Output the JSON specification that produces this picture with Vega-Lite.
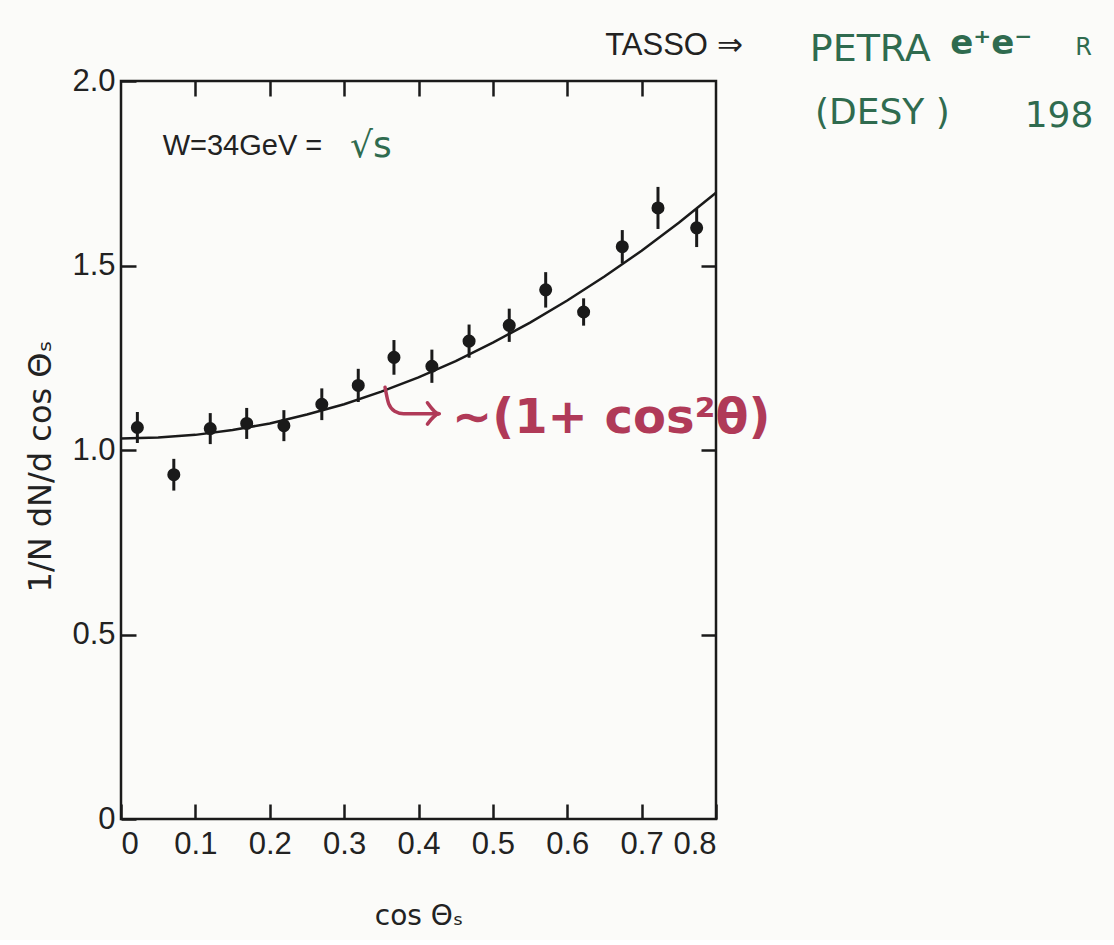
{
  "$schema": "https://vega.github.io/schema/vega-lite/v6.json",
  "width": 595,
  "height": 738,
  "padding": {"left": 24, "top": 27, "right": 30, "bottom": 10},
  "background": "#fbfbf9",
  "config": {
    "view": {"stroke": "#1a1a1a", "strokeWidth": 2.5},
    "font": "Liberation Sans",
    "axis": {
      "domain": false,
      "grid": false,
      "tickColor": "#1a1a1a",
      "tickWidth": 2.5,
      "tickSize": -15,
      "labelFont": "Liberation Sans",
      "labelFontSize": 31,
      "labelColor": "#222222",
      "titleFont": "DejaVu Sans",
      "titleFontSize": 28,
      "titleFontWeight": "normal",
      "titleColor": "#222222"
    }
  },
  "datasets": {
    "points": [
      {"c": 0.022, "v": 1.061, "lo": 1.019, "hi": 1.103},
      {"c": 0.071, "v": 0.933, "lo": 0.890, "hi": 0.976},
      {"c": 0.120, "v": 1.058, "lo": 1.016, "hi": 1.100},
      {"c": 0.169, "v": 1.072, "lo": 1.030, "hi": 1.114},
      {"c": 0.219, "v": 1.066, "lo": 1.024, "hi": 1.108},
      {"c": 0.270, "v": 1.124, "lo": 1.081, "hi": 1.167},
      {"c": 0.319, "v": 1.175, "lo": 1.130, "hi": 1.220},
      {"c": 0.367, "v": 1.251, "lo": 1.204, "hi": 1.298},
      {"c": 0.418, "v": 1.227, "lo": 1.182, "hi": 1.272},
      {"c": 0.468, "v": 1.295, "lo": 1.250, "hi": 1.340},
      {"c": 0.522, "v": 1.338, "lo": 1.293, "hi": 1.383},
      {"c": 0.571, "v": 1.434, "lo": 1.386, "hi": 1.482},
      {"c": 0.622, "v": 1.374, "lo": 1.337, "hi": 1.411},
      {"c": 0.674, "v": 1.551, "lo": 1.506, "hi": 1.596},
      {"c": 0.722, "v": 1.656, "lo": 1.599, "hi": 1.713},
      {"c": 0.774, "v": 1.602, "lo": 1.550, "hi": 1.654}
    ],
    "fit": [
      {"c": 0.00, "v": 1.031},
      {"c": 0.05, "v": 1.034},
      {"c": 0.10, "v": 1.041},
      {"c": 0.15, "v": 1.054},
      {"c": 0.20, "v": 1.072},
      {"c": 0.25, "v": 1.096},
      {"c": 0.30, "v": 1.124},
      {"c": 0.35, "v": 1.158},
      {"c": 0.40, "v": 1.197},
      {"c": 0.45, "v": 1.241},
      {"c": 0.50, "v": 1.291},
      {"c": 0.55, "v": 1.345},
      {"c": 0.60, "v": 1.405},
      {"c": 0.65, "v": 1.470},
      {"c": 0.70, "v": 1.540},
      {"c": 0.75, "v": 1.616},
      {"c": 0.80, "v": 1.697}
    ],
    "arrow": [
      {"part": "shaft", "k": 1, "c": 0.355, "v": 1.170},
      {"part": "shaft", "k": 2, "c": 0.360, "v": 1.125},
      {"part": "shaft", "k": 3, "c": 0.368, "v": 1.105},
      {"part": "shaft", "k": 4, "c": 0.380, "v": 1.098},
      {"part": "shaft", "k": 5, "c": 0.427, "v": 1.098},
      {"part": "head", "k": 1, "c": 0.412, "v": 1.128},
      {"part": "head", "k": 2, "c": 0.428, "v": 1.098},
      {"part": "head", "k": 3, "c": 0.412, "v": 1.070}
    ]
  },
  "layer": [
    {
      "data": {"name": "fit"},
      "mark": {"type": "line", "color": "#1a1a1a", "strokeWidth": 2.5},
      "encoding": {
        "x": {
          "field": "c", "type": "quantitative",
          "scale": {"domain": [0, 0.8], "nice": false, "zero": false},
          "axis": {
            "orient": "bottom",
            "values": [0, 0.1, 0.2, 0.3, 0.4, 0.5, 0.6, 0.7, 0.8],
            "labelExpr": "datum.value == 0 ? '0' : format(datum.value, '.1f')",
            "labelPadding": 25,
            "title": "cos Θₛ",
            "titlePadding": 43
          }
        },
        "y": {
          "field": "v", "type": "quantitative",
          "scale": {"domain": [0, 2], "nice": false},
          "axis": {
            "orient": "left",
            "values": [0, 0.5, 1, 1.5, 2],
            "labelExpr": "datum.value == 0 ? '0' : format(datum.value, '.1f')",
            "labelPadding": 21,
            "title": "1/N  dN/d cos  Θₛ",
            "titleFontSize": 32,
            "titlePadding": 14,
            "titleY": 385
          }
        }
      }
    },
    {
      "data": {"name": "points"},
      "mark": {"type": "rule", "color": "#1a1a1a", "strokeWidth": 3},
      "encoding": {
        "x": {"field": "c", "type": "quantitative", "axis": {"orient": "top", "values": [0.1, 0.2, 0.3, 0.4, 0.5, 0.6, 0.7], "labels": false, "title": null}},
        "y": {"field": "lo", "type": "quantitative", "axis": {"orient": "right", "values": [0.5, 1, 1.5], "labels": false, "title": null}},
        "y2": {"field": "hi"}
      }
    },
    {
      "data": {"name": "points"},
      "mark": {"type": "point", "filled": true, "color": "#1a1a1a", "size": 170, "opacity": 1},
      "encoding": {
        "x": {"field": "c", "type": "quantitative", "axis": null},
        "y": {"field": "v", "type": "quantitative", "axis": null}
      }
    },
    {
      "data": {"name": "arrow"},
      "mark": {"type": "line", "color": "#b03a58", "strokeWidth": 3.5, "strokeCap": "round", "strokeJoin": "round", "interpolate": "monotone"},
      "encoding": {
        "x": {"field": "c", "type": "quantitative", "axis": null},
        "y": {"field": "v", "type": "quantitative", "axis": null},
        "detail": {"field": "part"},
        "order": {"field": "k"}
      }
    },
    {
      "data": {"values": [{}]},
      "mark": {"type": "text", "text": "∼(1+ cos²θ)", "font": "DejaVu Sans", "fontSize": 48, "fontWeight": "bold", "color": "#b03a58", "align": "left", "baseline": "middle"},
      "encoding": {"x": {"datum": 0.445, "axis": null}, "y": {"datum": 1.083, "axis": null}}
    },
    {
      "data": {"values": [{}]},
      "mark": {"type": "text", "text": "W=34GeV  =", "fontSize": 29, "color": "#222222", "align": "left", "baseline": "middle"},
      "encoding": {"x": {"datum": 0.056, "axis": null}, "y": {"datum": 1.823, "axis": null}}
    },
    {
      "data": {"values": [{}]},
      "mark": {"type": "text", "text": "√s", "font": "DejaVu Sans", "fontSize": 36, "color": "#2f6b4f", "align": "left", "baseline": "middle"},
      "encoding": {"x": {"datum": 0.308, "axis": null}, "y": {"datum": 1.823, "axis": null}}
    },
    {
      "data": {"values": [{}]},
      "mark": {"type": "text", "text": "TASSO  ⇒", "fontSize": 31, "color": "#222222", "align": "left", "baseline": "middle"},
      "encoding": {"x": {"datum": 0.651, "axis": null}, "y": {"datum": 2.095, "axis": null}}
    },
    {
      "data": {"values": [{}]},
      "mark": {"type": "text", "text": "PETRA", "font": "DejaVu Sans", "fontSize": 38, "color": "#2f6b4f", "align": "left", "baseline": "middle"},
      "encoding": {"x": {"datum": 0.926, "axis": null}, "y": {"datum": 2.085, "axis": null}}
    },
    {
      "data": {"values": [{}]},
      "mark": {"type": "text", "text": "e⁺e⁻", "font": "DejaVu Sans", "fontSize": 34, "fontWeight": "bold", "color": "#2f6b4f", "align": "left", "baseline": "middle"},
      "encoding": {"x": {"datum": 1.115, "axis": null}, "y": {"datum": 2.10, "axis": null}}
    },
    {
      "data": {"values": [{}]},
      "mark": {"type": "text", "text": "R", "font": "DejaVu Sans", "fontSize": 24, "color": "#2f6b4f", "align": "left", "baseline": "middle"},
      "encoding": {"x": {"datum": 1.283, "axis": null}, "y": {"datum": 2.09, "axis": null}}
    },
    {
      "data": {"values": [{}]},
      "mark": {"type": "text", "text": "(DESY )", "font": "DejaVu Sans", "fontSize": 36, "color": "#2f6b4f", "align": "left", "baseline": "middle"},
      "encoding": {"x": {"datum": 0.933, "axis": null}, "y": {"datum": 1.912, "axis": null}}
    },
    {
      "data": {"values": [{}]},
      "mark": {"type": "text", "text": "198", "font": "DejaVu Sans", "fontSize": 36, "color": "#2f6b4f", "align": "left", "baseline": "middle"},
      "encoding": {"x": {"datum": 1.215, "axis": null}, "y": {"datum": 1.905, "axis": null}}
    }
  ]
}
